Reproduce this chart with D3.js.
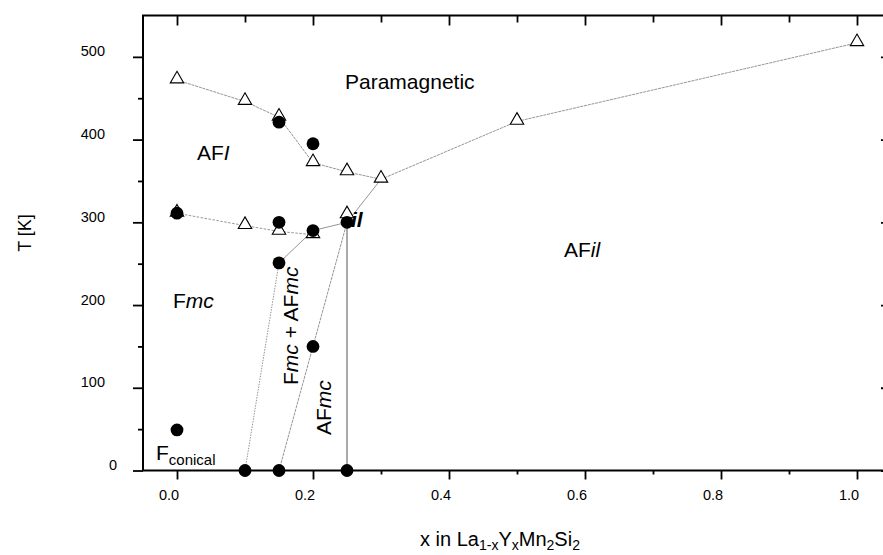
<!DOCTYPE html>
<html><head><meta charset="utf-8">
<script src="https://cdn.jsdelivr.net/npm/d3@7"></script>
<style>
html,body{margin:0;padding:0;background:#fff;}
svg{display:block;font-family:"Liberation Sans",Arial,Helvetica,sans-serif;}
</style></head>
<body>
<svg id="c" width="883" height="555"></svg>
<script>
// ---- data ----
const xMajorTicks = [0.0, 0.2, 0.4, 0.6, 0.8, 1.0];
const xMinorTicks = [0.1, 0.3, 0.5, 0.7, 0.9];
const yMajorTicks = [0, 100, 200, 300, 400, 500];
const yMinorTicks = [50, 150, 250, 350, 450];

// open triangles: upper transition (paramagnetic boundary)
const triUpperX = [0, 0.1, 0.15, 0.2, 0.25, 0.3, 0.5, 1.0];
const triUpperT = [472, 446, 427, 372, 361, 352, 422, 517];
// open triangles: lower transition
const triLowerX = [0, 0.1, 0.15, 0.2, 0.25];
const triLowerT = [311, 296, 289, 285, 309];
// filled circles
const dotX = [0.15, 0.2, 0, 0.15, 0.2, 0.25, 0.15, 0.2, 0, 0.1, 0.15, 0.25];
const dotT = [421, 395, 311, 300, 290, 300, 251, 150, 49, 0, 0, 0];

// boundary lines (x, T)
const lineFmcAX = [0.15, 0.2, 0.25, 0.3];
const lineFmcAT = [251, 290, 300, 352];
const lineDotted1X = [0.1, 0.15];
const lineDotted1T = [0, 251];
const lineAFmcX = [0.15, 0.2, 0.25];
const lineAFmcT = [0, 150, 300];
const lineVertX = [0.25, 0.25];
const lineVertT = [0, 300];

const yTitle = "T [K]";

// ---- scales ----
const svg = d3.select("#c");
const x = d3.scaleLinear().domain([-0.05, 1.05]).range([143, 891]);
const y = d3.scaleLinear().domain([0, 550]).range([470.5, 15.5]);
const zip = (a, b) => a.map((v, i) => [v, b[i]]);
const line = d3.line().x(d => x(d[0])).y(d => y(d[1]));

// ---- axes ----
const axG = svg.append("g");
function addAxis(axisFn, scale, ticks, size, transform, labels) {
  const g = axG.append("g").attr("transform", transform)
    .call(axisFn(scale).tickValues(ticks).tickSize(size).tickPadding(6)
      .tickFormat(labels ? (d => (d3.format(labels === "x" ? ".1f" : "d"))(d)) : ""));
  g.select(".domain").remove();
  g.selectAll(".tick line").attr("stroke", "#000").attr("stroke-width", 1.8);
  g.selectAll("text").attr("fill", "#000").style("font-size", "14.5px")
    .style("font-family", "\"Liberation Sans\",Arial,sans-serif");
  return g;
}
// bottom (outward)
const bx = addAxis(d3.axisBottom, x, xMajorTicks, 9, `translate(0,${y(0)})`, "x");
bx.selectAll("text").attr("dx", -8.5).attr("dy", 0).attr("y", 29.5).style("dominant-baseline", "auto");
addAxis(d3.axisBottom, x, xMinorTicks, 4, `translate(0,${y(0)})`, null);
// top (inward)
addAxis(d3.axisBottom, x, xMajorTicks, 10, `translate(0,${y(550)})`, null);
addAxis(d3.axisBottom, x, xMinorTicks, 7, `translate(0,${y(550)})`, null);
// left (outward)
const ly = addAxis(d3.axisLeft, y, yMajorTicks, 10, `translate(${x(-0.05)},0)`, "y");
ly.selectAll("text").attr("x", d => d === 0 ? -26 : -38).attr("dy", -1).style("dominant-baseline", "auto");
addAxis(d3.axisLeft, y, yMinorTicks, 5, `translate(${x(-0.05)},0)`, null);
// right (inward)
addAxis(d3.axisRight, y, yMajorTicks, -10, `translate(${x(1.05)},0)`, null);
addAxis(d3.axisRight, y, yMinorTicks, -5, `translate(${x(1.05)},0)`, null);
// frame
axG.append("rect").attr("x", x(-0.05)).attr("y", y(550))
  .attr("width", x(1.05) - x(-0.05)).attr("height", y(0) - y(550))
  .attr("fill", "none").attr("stroke", "#000").attr("stroke-width", 2);

// ---- lines ----
const lg = svg.append("g").attr("fill", "none").attr("stroke", "#7a7a7a").attr("stroke-width", 0.8);
lg.append("path").attr("d", line(zip(triUpperX, triUpperT))).attr("stroke-dasharray", "3,0.8");
lg.append("path").attr("d", line(zip(triLowerX.slice(0, 4), triLowerT.slice(0, 4)))).attr("stroke-dasharray", "2.5,1.5");
lg.append("path").attr("d", line(zip(lineFmcAX, lineFmcAT)));
lg.append("path").attr("d", line(zip(lineDotted1X, lineDotted1T))).attr("stroke-dasharray", "1.5,1.2");
lg.append("path").attr("d", line(zip(lineAFmcX, lineAFmcT))).attr("stroke-dasharray", "3,0.8");
lg.append("path").attr("d", line(zip(lineVertX, lineVertT))).attr("stroke", "#555").attr("stroke-width", 1);

// ---- markers ----
const tri = d3.symbol(d3.symbolTriangle, 78);
svg.append("g").selectAll("path")
  .data(zip(triUpperX, triUpperT).concat(zip(triLowerX, triLowerT)))
  .join("path").attr("d", tri)
  .attr("transform", d => `translate(${x(d[0])},${y(d[1]) - 1})`)
  .attr("fill", "#fff").attr("stroke", "#000").attr("stroke-width", 1.1);
svg.append("g").selectAll("circle")
  .data(zip(dotX, dotT)).join("circle")
  .attr("cx", d => x(d[0])).attr("cy", d => y(d[1])).attr("r", 6.4).attr("fill", "#000");

// ---- region labels ----
const tg = svg.append("g").attr("fill", "#000").style("font-size", "21px");
function label(parts, tx, ty, rot) {
  const t = tg.append("text").attr("transform", `translate(${tx},${ty})` + (rot ? ` rotate(${rot})` : ""));
  parts.forEach(p => {
    const s = t.append("tspan").text(p[0]);
    if (p[1]) s.style("font-style", "italic");
    if (p[2]) s.style("font-weight", "bold");
  });
  return t;
}
label([["Paramagnetic"]], 345, 89);
label([["AF"], ["I", true]], 197, 160);
label([["F"], ["mc", true]], 173, 308);
label([["AF"], ["il", true]], 564, 257);
label([["il", true, true]], 351, 227);
label([["F"], ["mc", true], [" + AF"], ["mc", true]], 298, 385, -90);
label([["AF"], ["mc", true]], 331, 435, -90);
const fc = tg.append("text").attr("x", 156).attr("y", 460);
fc.append("tspan").text("F");
fc.append("tspan").text("conical").attr("dy", 5).style("font-size", "15px");

// ---- axis titles ----
const xt = svg.append("text").attr("x", 420).attr("y", 546).style("font-size", "20px").attr("fill", "#000");
[["x in La", 0], ["1-x", 1], ["Y", 0], ["x", 1], ["Mn", 0], ["2", 1], ["Si", 0], ["2", 1]].forEach((p, i, arr) => {
  const prevSub = i > 0 ? arr[i - 1][1] : 0;
  xt.append("tspan").text(p[0]).style("font-size", p[1] ? "14px" : "20px")
    .attr("dy", p[1] === prevSub ? 0 : (p[1] ? 4 : -4));
});
svg.append("text").attr("transform", `translate(31,233) rotate(-90)`)
  .attr("text-anchor", "middle").style("font-size", "18px").attr("fill", "#000").text(yTitle);
</script>
</body></html>
